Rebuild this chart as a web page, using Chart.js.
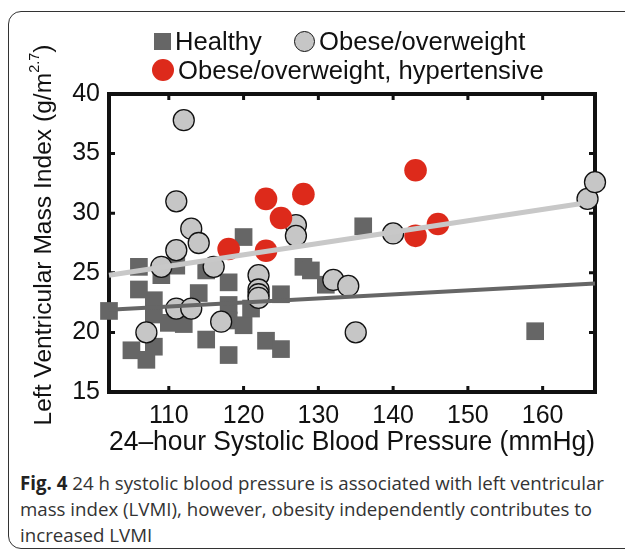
<!DOCTYPE html>
<html>
<head>
<meta charset="utf-8">
<script src="https://cdn.jsdelivr.net/npm/chart.js@4.4.0/dist/chart.umd.min.js"></script>
<style>
  body { margin: 0; width: 625px; height: 555px; overflow: hidden; background: #fff; position: relative; font-family: "Liberation Sans", Arial, sans-serif; color: #111; }
  #frame { position: absolute; left: 8px; top: 11px; width: 700px; height: 538px; box-sizing: border-box; border: 1.5px solid #333; border-radius: 13px; }
  #chart { position: absolute; left: 0; top: 0; }
  .lg { position: absolute; display: flex; align-items: center; font-size: 25.6px; line-height: 28px; white-space: nowrap; }
  .lg i { display: inline-block; box-sizing: border-box; margin-right: 4px; }
  #caption { position: absolute; left: 20px; top: 470px; width: 610px; font-family: "Open Sans", "Noto Sans", sans-serif; font-size: 18.7px; line-height: 26px; color: #333; white-space: nowrap; }
  #caption b { color: #222; }
</style>
</head>
<body>
<div id="frame"></div>
<canvas id="chart" width="625" height="470"></canvas>
<div id="legend"></div>
<div id="caption"><b>Fig. 4</b> 24 h systolic blood pressure is associated with left ventricular<br>mass index (LVMI), however, obesity independently contributes to<br>increased LVMI</div>
<script>
// series labels
const seriesNames = ['Healthy', 'Obese/overweight', 'Obese/overweight, hypertensive'];

// healthy: 24h systolic BP (mmHg) and LVMI (g/m^2.7)
const healthyBP   = [102, 105, 106, 106, 107, 108, 108, 108, 109, 110, 111, 112, 114, 115, 115, 118, 118, 118, 118, 120, 120, 121, 123, 125, 125, 128, 129, 131, 136, 159];
const healthyLVMI = [21.8, 18.5, 25.5, 23.6, 17.7, 22.7, 21.5, 18.8, 24.8, 20.8, 25.6, 20.7, 23.3, 25.2, 19.4, 24.2, 22.3, 21.0, 18.1, 28.0, 20.6, 22.0, 19.3, 23.2, 18.6, 25.5, 25.2, 24.0, 28.9, 20.1];

// obese/overweight
const obeseBP   = [107, 109, 111, 111, 111, 112, 113, 113, 114, 116, 117, 122, 122, 122, 122, 127, 127, 132, 134, 135, 140, 166, 167];
const obeseLVMI = [20.0, 25.5, 31.0, 26.9, 22.0, 37.8, 28.7, 22.0, 27.5, 25.5, 20.9, 24.8, 23.6, 23.2, 22.9, 29.0, 28.1, 24.4, 23.9, 20.0, 28.3, 31.2, 32.6];

// obese/overweight, hypertensive
const hyperBP   = [118, 123, 123, 125, 128, 143, 143, 146];
const hyperLVMI = [27.0, 31.2, 26.85, 29.6, 31.6, 33.6, 28.1, 29.1];

// fitted lines (end points)
const fitHealthyBP   = [102, 167];
const fitHealthyLVMI = [21.9, 24.1];
const fitObeseBP     = [102, 165];
const fitObeseLVMI   = [24.8, 30.8];

// axis ticks
const xTicks = [110, 120, 130, 140, 150, 160];
const yTicks = [15, 20, 25, 30, 35, 40];

const pts = (xs, ys) => xs.map((v, i) => ({ x: v, y: ys[i] }));

Chart.defaults.font.family = '"Liberation Sans", Arial, sans-serif';
Chart.defaults.color = '#111';

// legend (html)
const legendStyle = [
  { left: 154, top: 41, mark: 'width:17px;height:17px;background:#666;' },
  { left: 294, top: 41, mark: 'width:21px;height:21px;border-radius:50%;background:#c6c6c6;border:1.3px solid #111;' },
  { left: 152, top: 70, mark: 'width:22px;height:22px;border-radius:50%;background:#dd2a1b;' }
];
const legend = document.getElementById('legend');
seriesNames.forEach((name, i) => {
  const s = legendStyle[i];
  const el = document.createElement('div');
  el.className = 'lg';
  el.style.left = s.left + 'px';
  el.style.top = (s.top - 14) + 'px';
  el.innerHTML = '<i style="' + s.mark + '"></i><span>' + name + '</span>';
  legend.appendChild(el);
});

// matlab-like box with inward ticks, plus y title with superscript
const boxPlugin = {
  id: 'box',
  beforeDatasetsDraw(chart) {
    const { ctx, chartArea: a, scales: { x, y } } = chart;
    ctx.save();
    ctx.strokeStyle = '#111';
    ctx.lineWidth = 4;
    ctx.strokeRect(a.left, a.top, a.right - a.left, a.bottom - a.top);
    ctx.lineWidth = 3;
    ctx.beginPath();
    xTicks.forEach(v => {
      const px = x.getPixelForValue(v);
      ctx.moveTo(px, a.bottom); ctx.lineTo(px, a.bottom - 6);
      ctx.moveTo(px, a.top); ctx.lineTo(px, a.top + 6);
    });
    yTicks.forEach(v => {
      const py = y.getPixelForValue(v);
      ctx.moveTo(a.left, py); ctx.lineTo(a.left + 6, py);
      ctx.moveTo(a.right, py); ctx.lineTo(a.right - 6, py);
    });
    ctx.stroke();
    ctx.restore();
  },
  afterDraw(chart) {
    const ctx = chart.ctx;
    const main = 'Left Ventricular Mass Index (g/m', sup = '2.7', end = ')';
    const big = '24.6px "Liberation Sans", Arial, sans-serif';
    const small = '14.5px "Liberation Sans", Arial, sans-serif';
    ctx.save();
    ctx.translate(44, 235);
    ctx.rotate(-Math.PI / 2);
    ctx.fillStyle = '#111';
    ctx.textBaseline = 'middle';
    ctx.font = big;
    const w1 = ctx.measureText(main).width, w3 = ctx.measureText(end).width;
    ctx.font = small;
    const w2 = ctx.measureText(sup).width;
    let xx = -(w1 + w2 + w3) / 2;
    ctx.font = big;
    ctx.fillText(main, xx, 0);
    xx += w1;
    ctx.font = small;
    ctx.fillText(sup, xx, -9);
    xx += w2;
    ctx.font = big;
    ctx.fillText(end, xx, 0);
    ctx.restore();
  }
};

new Chart(document.getElementById('chart'), {
  type: 'scatter',
  data: {
    datasets: [
      { label: seriesNames[0], data: pts(healthyBP, healthyLVMI), pointStyle: 'rect', pointRadius: 12.5,
        backgroundColor: '#666666', borderWidth: 0, order: 3, clip: false },
      { label: seriesNames[1], data: pts(obeseBP, obeseLVMI), pointStyle: 'circle', pointRadius: 10.5,
        backgroundColor: '#c6c6c6', borderColor: '#111', borderWidth: 1.3, order: 2, clip: false },
      { label: seriesNames[2], data: pts(hyperBP, hyperLVMI), pointStyle: 'circle', pointRadius: 11.3,
        backgroundColor: '#dd2a1b', borderColor: '#dd2a1b', borderWidth: 0, order: 1, clip: false },
      { label: 'fit healthy', data: pts(fitHealthyBP, fitHealthyLVMI), showLine: true, pointRadius: 0,
        borderColor: '#666666', borderWidth: 4, order: 0, clip: false },
      { label: 'fit obese', data: pts(fitObeseBP, fitObeseLVMI), showLine: true, pointRadius: 0,
        borderColor: '#c8c8c8', borderWidth: 5, order: 0, clip: false }
    ]
  },
  options: {
    responsive: false,
    animation: false,
    layout: { padding: { top: 94, right: 30, left: 0, bottom: 0 } },
    plugins: { legend: { display: false }, tooltip: { enabled: false } },
    scales: {
      x: {
        type: 'linear', min: 102, max: 167,
        grid: { display: false, drawTicks: false }, border: { display: false },
        afterBuildTicks: s => { s.ticks = xTicks.map(v => ({ value: v })); },
        afterFit: s => { s.height = 78; },
        ticks: { font: { size: 25 }, color: '#111', padding: 9, maxRotation: 0 },
        title: { display: true, text: '24\u2013hour Systolic Blood Pressure (mmHg)', font: { size: 26.8 }, color: '#111', padding: { top: 0, bottom: 11 } }
      },
      y: {
        type: 'linear', min: 15, max: 40,
        grid: { display: false, drawTicks: false }, border: { display: false },
        afterBuildTicks: s => { s.ticks = yTicks.map(v => ({ value: v })); },
        afterFit: s => { s.width = 109; },
        ticks: { font: { size: 25 }, color: '#111', padding: 9 }
      }
    }
  },
  plugins: [boxPlugin]
});
</script>
</body>
</html>
